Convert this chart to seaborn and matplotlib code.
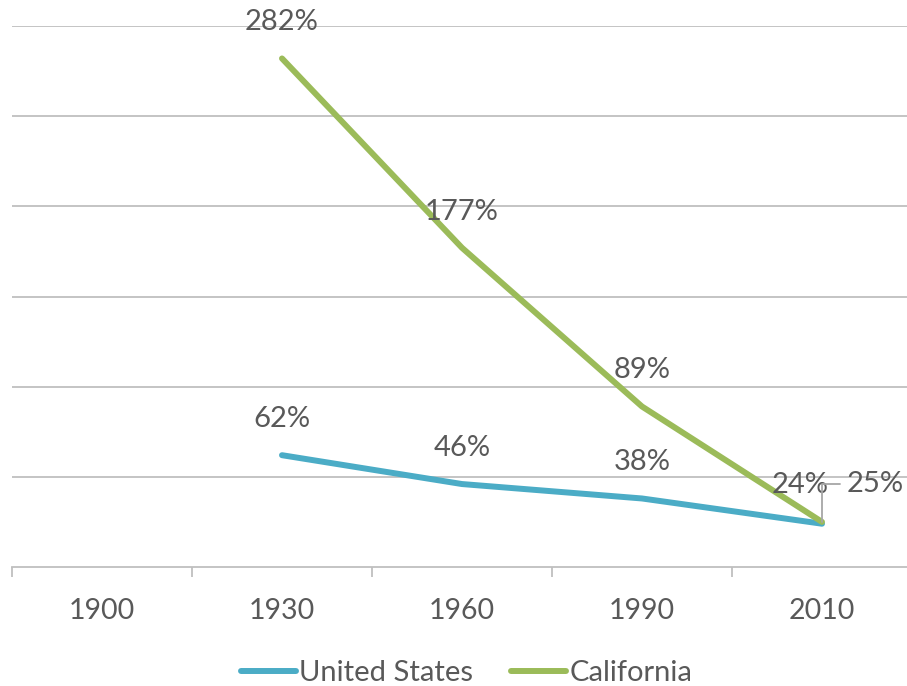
import numpy as np
import pandas as pd
import matplotlib.pyplot as plt
import seaborn as sns

# chart data
years = ["1900", "1930", "1960", "1990", "2010"]
us_values = [np.nan, 62, 46, 38, 24]
ca_values = [np.nan, 282, 177, 89, 25]
series_names = ["United States", "California"]
series_colors = {"United States": "#4BACC6", "California": "#9BBB59"}

pos = np.arange(len(years))
df = pd.DataFrame({
    "pos": np.concatenate([pos, pos]),
    "value": us_values + ca_values,
    "series": [series_names[0]] * len(years) + [series_names[1]] * len(years),
})

sns.set_theme(style="white")
plt.rcParams["font.family"] = ["Lato", "DejaVu Sans"]
text_color = "#595959"
label_size = 21

fig = plt.figure(figsize=(9.07, 6.86), dpi=100)
ax = fig.add_axes([12 / 907, 119 / 686, 900 / 907, 541 / 686])

sns.lineplot(data=df.dropna(), x="pos", y="value", hue="series",
             palette=series_colors, linewidth=4.3, ax=ax, legend=False,
             solid_capstyle="round", sort=False)

ax.set_xlim(-0.5, len(years) - 0.5)
ax.set_ylim(0, 300)
ax.set_yticks(np.arange(50, 301, 50))
ax.yaxis.grid(True, color="#BFBFBF", linewidth=1.3)
ax.set_axisbelow(True)
ax.tick_params(axis="y", left=False, labelleft=False)
ax.set_xticks(pos)
ax.set_xticklabels(years, fontsize=20.5, color=text_color)
ax.set_xticks(np.arange(-0.5, len(years), 1), minor=True)
ax.tick_params(axis="x", which="major", length=0, pad=22)
ax.tick_params(axis="x", which="minor", length=7, width=1.3, color="#BFBFBF",
               direction="out", bottom=True)
ax.set_xlabel("")
ax.set_ylabel("")
for side in ["top", "right", "left"]:
    ax.spines[side].set_visible(False)
ax.spines["bottom"].set_color("#BFBFBF")
ax.spines["bottom"].set_linewidth(1.3)

# data labels
for i in range(1, len(years) - 1):
    ax.annotate(f"{ca_values[i]}%", (pos[i], ca_values[i]), xytext=(0, 26),
                textcoords="offset points", ha="center", va="center",
                fontsize=label_size, color=text_color)
    ax.annotate(f"{us_values[i]}%", (pos[i], us_values[i]), xytext=(0, 26),
                textcoords="offset points", ha="center", va="center",
                fontsize=label_size, color=text_color)
last = len(years) - 1
ax.annotate(f"{us_values[last]}%", (pos[last], us_values[last]), xytext=(-16, 28),
            textcoords="offset points", ha="center", va="center",
            fontsize=label_size, color=text_color)
ax.annotate(f"{ca_values[last]}%", (pos[last], ca_values[last]), xytext=(18, 27),
            textcoords="offset points", ha="left", va="center",
            fontsize=label_size, color=text_color,
            arrowprops=dict(arrowstyle="-", color="#A6A6A6", lw=1.3,
                            connectionstyle="angle,angleA=0,angleB=90,rad=0",
                            shrinkA=3, shrinkB=0))

# legend
handles = [plt.Line2D([], [], color=series_colors[s], linewidth=4.3,
                      solid_capstyle="round") for s in series_names]
fig.legend(handles, series_names, loc="center",
           bbox_to_anchor=(0.5 + 13 / 907, 13 / 686),
           ncol=2, frameon=False, fontsize=label_size, labelcolor=text_color,
           handlelength=1.9, handletextpad=0.1, columnspacing=1.3)

fig.savefig("out.png", dpi=100, facecolor="w")
